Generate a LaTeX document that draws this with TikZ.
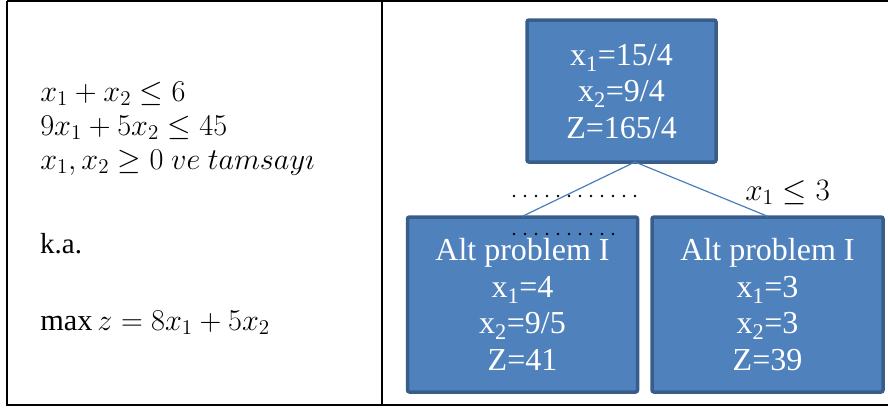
\documentclass[tikz,border=0pt]{standalone}
\usepackage{fontspec}
\setmainfont{Liberation Serif}
\begin{document}
\begin{tikzpicture}[x=1pt,y=-1pt,
  tline/.style={line width=2.5pt,black},
  nbox/.style={draw={rgb,255:red,56;green,93;blue,138},fill={rgb,255:red,79;green,129;blue,189},line width=3.5pt,rounded corners=2pt,inner sep=0pt},
  btext/.style={text=white,align=center,font=\fontsize{32}{36.5}\selectfont,inner sep=0pt,anchor=base},
  mtext/.style={anchor=base west,inner sep=0pt,font=\fontsize{20.74}{24}\selectfont,scale=1.46,transform shape},
  conn/.style={draw={rgb,255:red,74;green,126;blue,187},line width=1.2pt},
  dots/.style={line width=2.6pt,line cap=round,dash pattern=on 0pt off 11pt}]
\useasboundingbox (0,0) rectangle (888,408);
% table
\coordinate (tl) at (7,1);
\coordinate (tr) at (888,1);
\coordinate (bl) at (7,405);
\coordinate (br) at (888,405);
\coordinate (dt) at (382,1);
\coordinate (db) at (382,405);
\draw[line width=1.6pt] (tl) -- (tr);
\draw[tline] (tl) -- (bl) -- (br);
\draw[tline] (dt) -- (db);
% left text
\node[mtext] (c1) at (40,101) {$x_1+x_2\le 6$};
\node[mtext] (c2) at (40,135) {$9x_1+5x_2\le 45$};
\node[mtext] (c3) at (40,169) {$x_1,x_2\ge 0\ ve\ tamsay\imath$};
\node[anchor=base west,inner sep=0pt,font=\fontsize{29}{32}\selectfont] (ka) at (40,253) {k.a.};
\node[mtext] (obj) at (40,330) {$\max z=8x_1+5x_2$};
% boxes
\node[nbox,minimum width=189pt,minimum height=142pt] (top) at (621.5,91) {};
\node[nbox,minimum width=230pt,minimum height=175pt] (lb) at (522.5,304.5) {};
\node[nbox,minimum width=231pt,minimum height=175pt] (rb) at (767.5,304.5) {};
\node[btext] (ttext) at (621.5,138) {x\textsubscript{1}=15/4\\x\textsubscript{2}=9/4\\Z=165/4};
\node[btext] (ltext) at (522.5,370) {Alt problem I\\x\textsubscript{1}=4\\x\textsubscript{2}=9/5\\Z=41};
\node[btext] (rtext) at (767.5,370) {Alt problem I\\x\textsubscript{1}=3\\x\textsubscript{2}=3\\Z=39};
% connectors
\coordinate (apex) at (635,162);
\draw[conn] (apex) -- ([yshift=-1pt]lb.north);
\draw[conn] (apex) -- ([yshift=-1pt]rb.north);
% dots
\coordinate (d1a) at (514,196);
\coordinate (d1b) at (636,196);
\coordinate (d2a) at (514,234);
\coordinate (d2b) at (614,234);
\draw[dots] (d1a) -- (d1b);
\draw[dots] (d2a) -- (d2b);
% branch label
\node[mtext,scale=1.03] (br1) at (745,200) {$x_1\le 3$};
\end{tikzpicture}
\end{document}
